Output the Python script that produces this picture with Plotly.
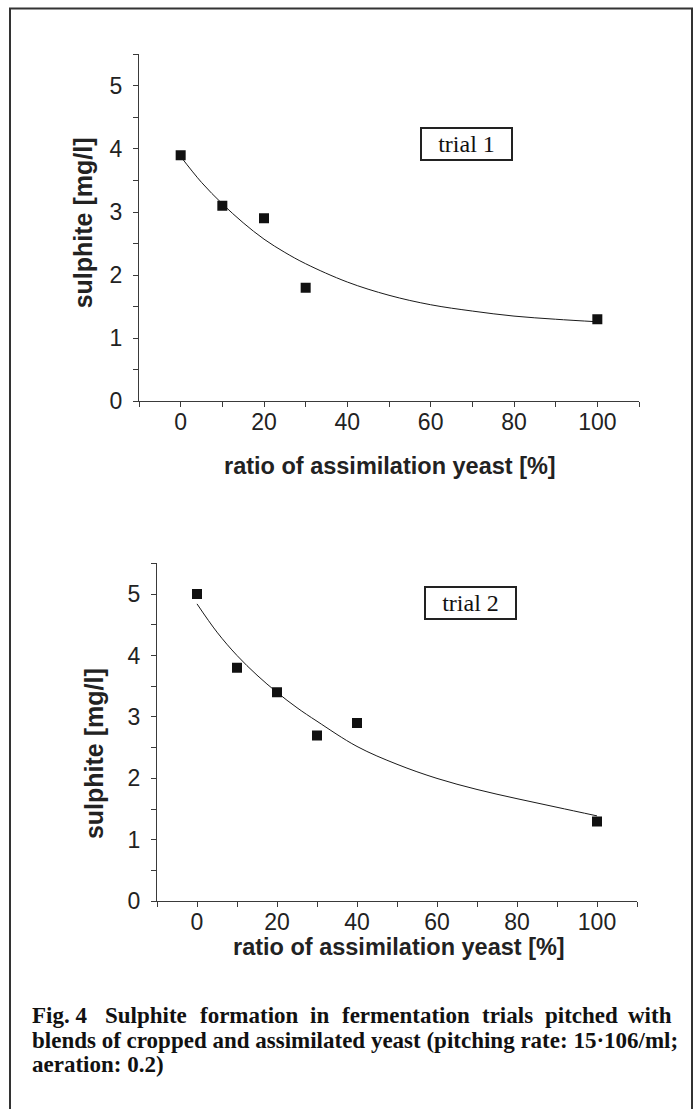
import plotly.graph_objects as go

# ---------------- data ----------------
ratio_trial1 = [0, 10, 20, 30, 100]
sulphite_trial1 = [3.9, 3.1, 2.9, 1.8, 1.3]

ratio_trial2 = [0, 10, 20, 30, 40, 100]
sulphite_trial2 = [5.0, 3.8, 3.4, 2.7, 2.9, 1.3]

# fitted curves
fit_ratio = [0, 5, 10, 15, 20, 25, 30, 40, 50, 60, 70, 80, 90, 100]
fit_trial1 = [3.88, 3.47, 3.13, 2.83, 2.57, 2.36, 2.18, 1.89, 1.68, 1.53, 1.43, 1.35, 1.30, 1.26]
fit_trial2 = [4.84, 4.38, 4.00, 3.68, 3.40, 3.15, 2.93, 2.52, 2.23, 2.00, 1.82, 1.67, 1.53, 1.39]

x_tick_vals = [-10, 0, 10, 20, 30, 40, 50, 60, 70, 80, 90, 100, 110]
x_tick_text = ["", "0", "", "20", "", "40", "", "60", "", "80", "", "100", ""]
y_tick_vals = [0, 0.5, 1, 1.5, 2, 2.5, 3, 3.5, 4, 4.5, 5, 5.5]
y_tick_text = ["0", "", "1", "", "2", "", "3", "", "4", "", "5", ""]

y_title = "sulphite [mg/l]"
x_title = "ratio of assimilation yeast [%]"
panel_labels = ["trial 1", "trial 2"]
caption_line1 = ["Fig. 4", "Sulphite", "formation", "in", "fermentation", "trials", "pitched", "with"]
caption_line2 = "blends of cropped and assimilated yeast (pitching rate: 15·106/ml;"
caption_line3 = "aeration: 0.2)"

# ---------------- layout helpers ----------------
W, H = 694, 1109


def px(x):
    return x / W


def py(y):
    return 1 - y / H


INK = "#1a1a1a"
AXIS = "#3a3a3a"
SANS = "Liberation Sans, Arial, sans-serif"
SERIF = "Liberation Serif, Times New Roman, serif"

fig = go.Figure()

for i, (rx, ry, fy) in enumerate([
    (ratio_trial1, sulphite_trial1, fit_trial1),
    (ratio_trial2, sulphite_trial2, fit_trial2),
]):
    xa = "x" if i == 0 else "x2"
    ya = "y" if i == 0 else "y2"
    fig.add_trace(go.Scatter(
        x=fit_ratio, y=fy, mode="lines", line=dict(color=INK, width=1, shape="spline"),
        xaxis=xa, yaxis=ya, showlegend=False, hoverinfo="skip"))
    fig.add_trace(go.Scatter(
        x=rx, y=ry, mode="markers",
        marker=dict(symbol="square", size=10, color="#111111"),
        xaxis=xa, yaxis=ya, showlegend=False))

axis_common = dict(
    showline=True, linecolor=AXIS, linewidth=1.3, mirror=False,
    showgrid=False, zeroline=False, ticks="outside", ticklen=5, tickwidth=1.2,
    tickcolor=AXIS, tickfont=dict(family=SANS, size=23, color="#222222"),
)

fig.update_layout(
    width=W, height=H, margin=dict(l=0, r=0, t=0, b=0),
    paper_bgcolor="white", plot_bgcolor="white", showlegend=False,
    xaxis=dict(domain=[px(139), px(639)], range=[-10, 110], anchor="y",
               tickmode="array", tickvals=x_tick_vals, ticktext=x_tick_text,
               ticklabelstandoff=-5, **axis_common),
    yaxis=dict(domain=[py(406), py(55)], range=[0, 5.5], anchor="x",
               tickmode="array", tickvals=y_tick_vals, ticktext=y_tick_text,
               ticklabelstandoff=6, **axis_common),
    xaxis2=dict(domain=[px(157), px(637)], range=[-10, 110], anchor="y2",
                tickmode="array", tickvals=x_tick_vals, ticktext=x_tick_text,
                ticklabelstandoff=-5, **axis_common),
    yaxis2=dict(domain=[py(912), py(570)], range=[0, 5.5], anchor="x2",
                tickmode="array", tickvals=y_tick_vals, ticktext=y_tick_text,
                ticklabelstandoff=6, **axis_common),
)

annotations = []
# panel labels (boxed)
for lbl, xr, yr, xpos, ypos in [
    (panel_labels[0], "x", "y", 68.5, 4.08),
    (panel_labels[1], "x2", "y2", 68.3, 4.86),
]:
    annotations.append(dict(
        text=lbl, x=xpos, y=ypos, xref=xr, yref=yr, showarrow=False,
        font=dict(family=SERIF, size=24, color="#111111"),
        bordercolor="#222222", borderwidth=2, borderpad=0, bgcolor="white",
        width=89, height=30, xanchor="center", yanchor="middle"))

# axis titles
for xc, yc in [(83, 226), (94, 762)]:
    annotations.append(dict(
        text="<b>" + y_title + "</b>", x=px(xc), y=py(yc), xref="paper", yref="paper",
        textangle=-90, showarrow=False, xanchor="center", yanchor="middle",
        font=dict(family=SANS, size=25, color="#222222")))
for xc, yc in [(390, 472), (399, 958)]:
    annotations.append(dict(
        text="<b>" + x_title + "</b>", x=px(xc), y=py(yc), xref="paper", yref="paper",
        showarrow=False, xanchor="center", yanchor="middle",
        font=dict(family=SANS, size=23.5, color="#222222")))

# caption: first line justified word by word, the others as plain lines
cap_font = dict(family=SERIF, size=23, color="#111111")
line1_left = [31, 104.4, 198.6, 309.3, 340.9, 481.0, 544.4, 673]
for k, (w, xl) in enumerate(zip(caption_line1, line1_left)):
    last = k == len(caption_line1) - 1
    annotations.append(dict(
        text="<b>" + w + "</b>", x=px(xl), y=py(1028), xref="paper", yref="paper",
        showarrow=False, xanchor="right" if last else "left", yanchor="middle",
        borderpad=0, font=cap_font))
for txt, yc in [(caption_line2, 1053), (caption_line3, 1077)]:
    annotations.append(dict(
        text="<b>" + txt + "</b>", x=px(31), y=py(yc), xref="paper", yref="paper",
        showarrow=False, xanchor="left", yanchor="middle", borderpad=0, font=cap_font))

fig.update_layout(annotations=annotations)

# outer frame (bottom edge runs off the page, as in the original)
fig.add_shape(type="rect", xref="paper", yref="paper",
              x0=px(10), x1=px(692), y0=py(8.5), y1=py(1130),
              line=dict(color="#333333", width=2), fillcolor="rgba(0,0,0,0)")

fig.write_html(
    "out.html",
    config={"displayModeBar": False},
    post_script="document.body.style.margin='0';document.body.style.overflow='hidden';",
)
